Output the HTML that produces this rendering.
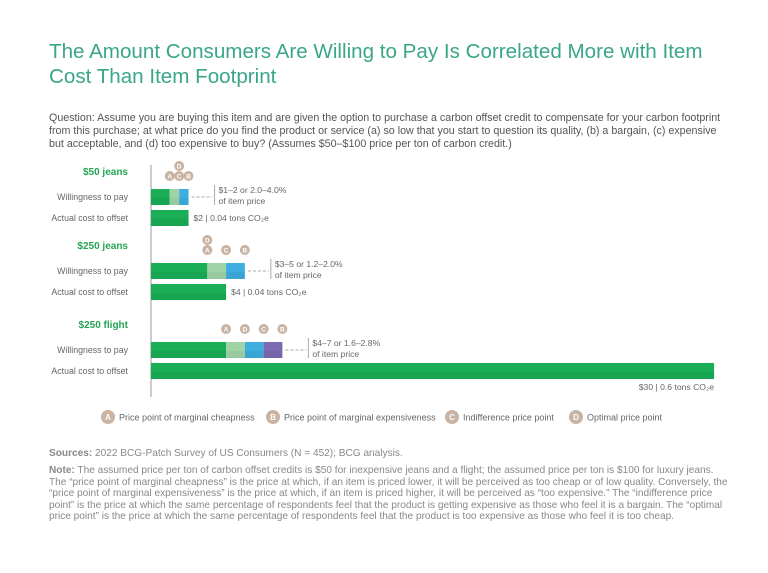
<!DOCTYPE html>
<html><head><meta charset="utf-8"><style>
body{margin:0;width:768px;height:573px;background:#fff;font-family:"Liberation Sans",sans-serif;position:relative;overflow:hidden}
.t{position:absolute;white-space:nowrap}
#title{left:49px;top:39px;font-size:20.6px;line-height:25px;color:#3aa688}
#q{left:49px;top:112px;font-size:10.7px;line-height:12.8px;color:#555}
#src{left:49px;top:448px;font-size:10.1px;color:#888}
#note{left:49px;top:465px;font-size:10.1px;line-height:11.6px;color:#888}
b{font-weight:bold}
</style></head><body>
<div id="title" class="t">The Amount Consumers Are Willing to Pay Is Correlated More with Item<br>Cost Than Item Footprint</div>
<div id="q" class="t">Question: Assume you are buying this item and are given the option to purchase a carbon offset credit to compensate for your carbon footprint<br>from this purchase; at what price do you find the product or service (a) so low that you start to question its quality, (b) a bargain, (c) expensive<br>but acceptable, and (d) too expensive to buy? (Assumes $50–$100 price per ton of carbon credit.)</div>
<svg id="chart" width="768" height="440" style="position:absolute;left:0;top:0"></svg>
<div id="src" class="t"><b>Sources:</b> 2022 BCG-Patch Survey of US Consumers (N = 452); BCG analysis.</div>
<div id="note" class="t"><b>Note:</b> The assumed price per ton of carbon offset credits is $50 for inexpensive jeans and a flight; the assumed price per ton is $100 for luxury jeans.<br>The “price point of marginal cheapness” is the price at which, if an item is priced lower, it will be perceived as too cheap or of low quality. Conversely, the<br>“price point of marginal expensiveness” is the price at which, if an item is priced higher, it will be perceived as “too expensive.” The “indifference price<br>point” is the price at which the same percentage of respondents feel that the product is getting expensive as those who feel it is a bargain. The “optimal<br>price point” is the price at which the same percentage of respondents feel that the product is too expensive as those who feel it is too cheap.</div>
<script>
const groups=["$50 jeans","$250 jeans","$250 flight"];
const ptA=[1,3,4];
const ptD=[1.5,3,5];
const ptC=[1.5,4,6];
const ptB=[2,5,7];
const actual=[2,4,30];
const wtpLabels=[["$1–2 or 2.0–4.0%","of item price"],["$3–5 or 1.2–2.0%","of item price"],["$4–7 or 1.6–2.8%","of item price"]];
const actualLabels=["$2 | 0.04 tons CO₂e","$4 | 0.04 tons CO₂e","$30 | 0.6 tons CO₂e"];
const legendKeys=["A","B","C","D"];
const legendText=["Price point of marginal cheapness","Price point of marginal expensiveness","Indifference price point","Optimal price point"];

const svg=document.getElementById('chart');const NS='http://www.w3.org/2000/svg';
const x0=151,k=18.77;const X=v=>x0+v*k;
const groupTop=[165,239,318];
function el(t,a,txt){const e=document.createElementNS(NS,t);for(const n in a)e.setAttribute(n,a[n]);if(txt!==undefined)e.textContent=txt;svg.appendChild(e);return e;}
const ax=el('line',{x1:x0,y1:165,x2:x0,y2:397,stroke:'#999','stroke-width':1});

function circ(cx,cy,l){const g=el('circle',{cx:cx,cy:cy,r:5,fill:'#c9b3a3'});
const t=el('text',{x:cx,y:cy+2.3,'font-size':6.5,fill:'#fff','text-anchor':'middle','font-weight':'bold'},l);}
function bar(x,y,w,h,fill,name){const r=el('rect',{x:x,y:y,width:w,height:h,fill:fill});
const s=el('rect',{x:x,y:y+h*0.55,width:w,height:h*0.45,fill:'#000','fill-opacity':0.05});}
groups.forEach((g,i)=>{
 const top=groupTop[i];
 const gl=el('text',{x:128,y:top+10,'font-size':10,'font-weight':'bold',fill:'#23a553','text-anchor':'end'},g);
 
 const wy=top+24,ay=top+45,h=16;
 const l1=el('text',{x:128,y:wy+11,'font-size':8.8,fill:'#666','text-anchor':'end'},'Willingness to pay');
 
 const l2=el('text',{x:128,y:ay+11,'font-size':8.8,fill:'#666','text-anchor':'end'},'Actual cost to offset');
 
 let segs;
 if(ptD[i]>ptA[i]&&ptC[i]-ptD[i]>0.2){segs=[[0,ptA[i],'#1aae57'],[ptA[i],ptD[i],'#9fd4a6'],[ptD[i],ptC[i],'#3eaee0'],[ptC[i],ptB[i],'#7c6bb3']];}
 else{segs=[[0,ptA[i],'#1aae57'],[ptA[i],ptC[i],'#9fd4a6'],[ptC[i],ptB[i],'#3eaee0']];}
 segs.forEach(s=>{if(s[1]<=s[0])return;bar(X(s[0]),wy,X(s[1])-X(s[0]),h,s[2],'wtp-segment');});
 bar(x0,ay,X(actual[i])-x0,h,'#1aae57','actual-cost-bar');
 const my=wy-13;
 if(ptD[i]<=ptA[i]||Math.abs(ptD[i]-ptC[i])<0.2){
  [['A',ptA[i]],['C',ptC[i]],['B',ptB[i]]].forEach(m=>circ(X(m[1]),my,m[0]));
  circ(X(ptD[i]),my-10,'D');
 } else {[['A',ptA[i]],['D',ptD[i]],['C',ptC[i]],['B',ptB[i]]].forEach(m=>circ(X(m[1]),my,m[0]));}
 const lx=X(ptB[i])+26;
 const dl=el('line',{x1:X(ptB[i])+3,y1:wy+8,x2:lx-2,y2:wy+8,stroke:'#aaa','stroke-dasharray':'3,2'});
 const vl=el('line',{x1:lx,y1:wy-4,x2:lx,y2:wy+16,stroke:'#aaa'});
 wtpLabels[i].forEach((s,j)=>{const t=el('text',{x:lx+4,y:wy+4+j*11,'font-size':8.6,fill:'#666'},s);});
 const big=actual[i]>20;
 const at=el('text',{x:big?X(actual[i]):X(actual[i])+5,y:big?ay+27:ay+11,'font-size':8.6,fill:'#666','text-anchor':big?'end':'start'},actualLabels[i]);
 
});
const lx=[108,273,452,576];
legendKeys.forEach((k2,i)=>{
 const c=el('circle',{cx:lx[i],cy:417,r:7,fill:'#c9b3a3'});
 const t=el('text',{x:lx[i],y:420,'font-size':8,fill:'#fff','text-anchor':'middle','font-weight':'bold'},k2);
 const tt=el('text',{x:lx[i]+11,y:420.5,'font-size':9,fill:'#666'},legendText[i]);
});
</script>
</body></html>
